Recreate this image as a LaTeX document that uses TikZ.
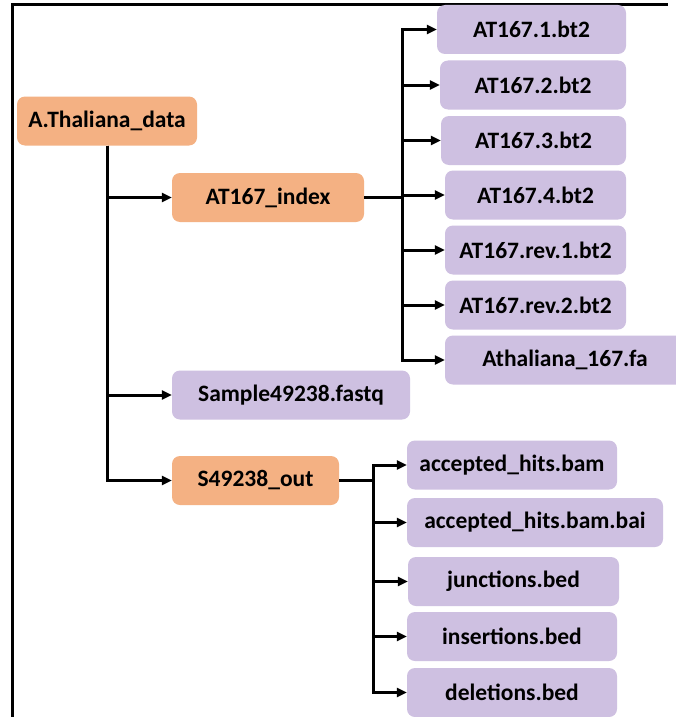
\documentclass[tikz,border=0pt]{standalone}
\usepackage{fontspec}
\setmainfont{Carlito}
\usepackage{xcolor}
\usepackage{tikz}
\usetikzlibrary{shapes,arrows,calc,arrows.meta}
\definecolor{dirfill}{RGB}{244,177,131}
\definecolor{filefill}{RGB}{206,192,225}
\tikzset{
    box/.style={rounded corners=8pt, minimum height=49pt, inner sep=0pt, font=\fontsize{23.5}{28}\selectfont\bfseries},
    dirbox/.style={box, fill=dirfill},
    filebox/.style={box, fill=filefill},
    link/.style={line width=3pt, -{Triangle[length=10pt,width=9pt]}},
    bus/.style={line width=3pt},
    border/.style={line width=3pt}
}

\begin{document}
\begin{tikzpicture}[x=1pt, y=-1pt]
    \path[use as bounding box, fill=white] (0,0) rectangle (676,717);
    \draw[border] (12,717) -- (12,4.5) -- (668,4.5);

    \node[dirbox, minimum width=180pt] (root) at (107,121) {A.Thaliana\_data};
    \node[dirbox, minimum width=192pt] (index) at (268,197.5) {AT167\_index};
    \node[filebox, minimum width=238pt] (fastq) at (291,395) {Sample49238.fastq};
    \node[dirbox, minimum width=167pt] (out) at (255.5,480.5) {S49238\_out};

    \node[filebox, minimum width=189pt] (bt1) at (531.5,29.5) {AT167.1.bt2};
    \node[filebox, minimum width=186pt] (bt2) at (533,85) {AT167.2.bt2};
    \node[filebox, minimum width=185pt] (bt3) at (533.5,140.5) {AT167.3.bt2};
    \node[filebox, minimum width=181pt] (bt4) at (535.5,195) {AT167.4.bt2};
    \node[filebox, minimum width=181pt] (rev1) at (535.5,250) {AT167.rev.1.bt2};
    \node[filebox, minimum width=181pt] (rev2) at (535.5,305) {AT167.rev.2.bt2};
    \node[filebox, minimum width=240pt] (fa) at (565,360) {Athaliana\_167.fa};

    \node[filebox, minimum width=210pt] (bam) at (512,465) {accepted\_hits.bam};
    \node[filebox, minimum width=256pt] (bai) at (535,522.5) {accepted\_hits.bam.bai};
    \node[filebox, minimum width=211pt] (junc) at (513.5,581.5) {junctions.bed};
    \node[filebox, minimum width=210pt] (ins) at (512,636.5) {insertions.bed};
    \node[filebox, minimum width=210pt] (del) at (512,692.5) {deletions.bed};

    \coordinate (indexbus) at (402,197.5);
    \coordinate (outbus) at (373,480.5);

    \draw[link] (root.south) |- (index.west);
    \draw[link] (root.south) |- (fastq.west);
    \draw[link] (root.south) |- (out.west);

    \draw[bus] (index.east) -- (indexbus);
    \foreach \f in {bt1,bt2,bt3,bt4,rev1,rev2,fa}
        \draw[link] (indexbus) |- (\f.west);

    \draw[bus] (out.east) -- (outbus);
    \foreach \f in {bam,bai,junc,ins,del}
        \draw[link] (outbus) |- (\f.west);
\end{tikzpicture}
\end{document}
